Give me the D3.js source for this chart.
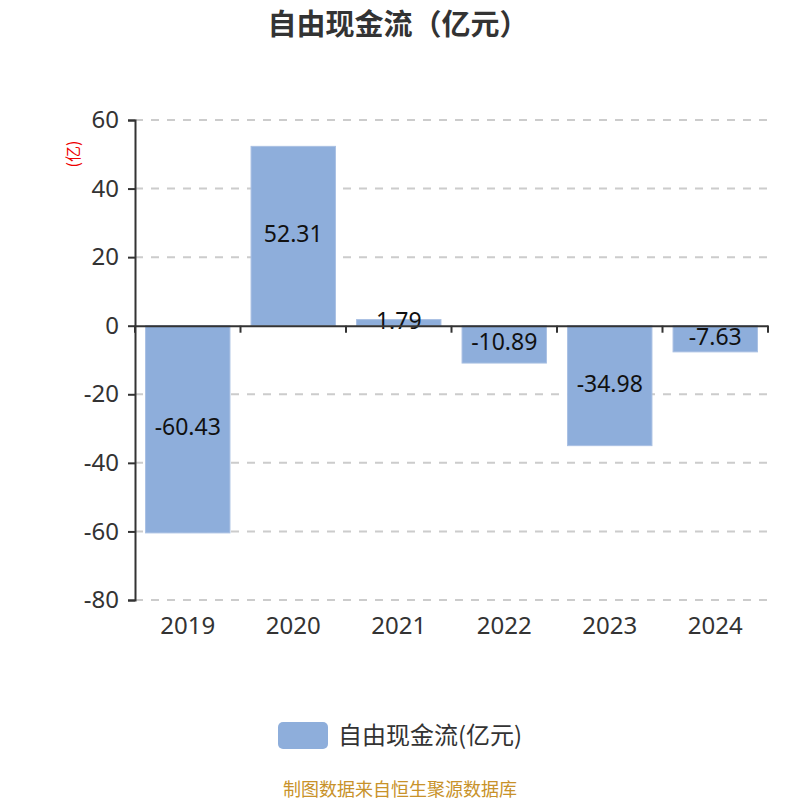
<!DOCTYPE html>
<html><head><meta charset="utf-8">
<script src="https://cdn.jsdelivr.net/npm/d3@7"></script>
<style>body{margin:0;background:#fff}svg{display:block}</style>
</head><body>
<svg id="c" width="800" height="800"></svg>
<script>
const categories = ["2019","2020","2021","2022","2023","2024"];
const values = [-60.43, 52.31, 1.79, -10.89, -34.98, -7.63];
const yTicks = [60,40,20,0,-20,-40,-60,-80];
const title = "自由现金流（亿元）";
const seriesName = "自由现金流(亿元)";
const unitLabel = "(亿)";
const source = "制图数据来自恒生聚源数据库";

const CJK = '"Noto Sans CJK SC","Noto Sans",sans-serif';
const NUM = '"Noto Sans","Open Sans",sans-serif';
const svg = d3.select("#c");
const L=135, R=768, T=120, B=600;
const x = d3.scaleBand().domain(categories).range([L,R]).paddingInner(0.2).paddingOuter(0.1);
const y = d3.scaleLinear().domain([-80,60]).range([B,T]);
const barColor = "#8eaedb";

svg.append("text").attr("x",398).attr("y",35).attr("text-anchor","middle")
  .style("font-family",CJK).style("font-size","29px").style("font-weight","bold").attr("fill","#333").text(title);

// grid
svg.append("g").selectAll("line").data(yTicks.filter(d=>d!==0)).join("line")
  .attr("x1",L).attr("x2",R).attr("y1",d=>y(d)).attr("y2",d=>y(d))
  .attr("stroke","#ccc").attr("stroke-width",2).attr("stroke-dasharray","8,8");

// bars
svg.append("g").selectAll("rect").data(values).join("rect")
  .attr("x",(d,i)=>x(categories[i])).attr("width",x.bandwidth())
  .attr("y",d=>y(Math.max(0,d))).attr("height",d=>Math.abs(y(d)-y(0)))
  .attr("fill",barColor).attr("stroke","#a9c0e3").attr("stroke-width",1);

// labels
svg.append("g").selectAll("text").data(values).join("text")
  .attr("x",(d,i)=>x(categories[i])+x.bandwidth()/2)
  .attr("y",d=>(y(d)+y(0))/2).attr("dy","0.26em").attr("text-anchor","middle")
  .style("font-family",NUM).style("font-size","23px").attr("fill","#111").text(d=>d.toFixed(2));

// y axis
const ya = svg.append("g").attr("transform",`translate(${L},0)`)
  .call(d3.axisLeft(y).tickValues(yTicks).tickSize(7).tickPadding(9).tickFormat(d=>String(d)));
ya.select(".domain").attr("stroke","#333").attr("stroke-width",2);
ya.selectAll(".tick line").attr("stroke","#333").attr("stroke-width",2);
ya.selectAll(".tick text").style("font-size","24px").attr("fill","#333").style("font-family",NUM);

// x axis at zero
const xa = svg.append("g").attr("transform",`translate(0,${y(0)})`)
  .call(d3.axisBottom(x).tickSize(0).tickFormat(""));
xa.select(".domain").attr("stroke","#333").attr("stroke-width",2);
const bounds = d3.range(categories.length+1).map(i=>L+i*(R-L)/categories.length);
svg.append("g").selectAll("line").data(bounds).join("line")
  .attr("x1",d=>d).attr("x2",d=>d).attr("y1",y(0)).attr("y2",y(0)+7)
  .attr("stroke","#333").attr("stroke-width",2);

// category labels at bottom
svg.append("g").selectAll("text").data(categories).join("text")
  .attr("x",d=>x(d)+x.bandwidth()/2).attr("y",634).attr("text-anchor","middle")
  .style("font-size","24px").attr("fill","#333").style("font-family",NUM).text(d=>d);

// unit label
svg.append("text").attr("transform","translate(79,154) rotate(-90)").attr("text-anchor","middle")
  .style("font-family",CJK).style("font-size","16px").attr("fill","#e00").text(unitLabel);

// legend
svg.append("rect").attr("x",278).attr("y",722).attr("width",50).attr("height",27).attr("rx",5).attr("fill",barColor);
svg.append("text").attr("x",338).attr("y",744).style("font-family",CJK).style("font-size","24px").attr("fill","#333").text(seriesName);

svg.append("text").attr("x",400).attr("y",796).attr("text-anchor","middle")
  .style("font-family",CJK).style("font-size","18px").attr("fill","#c8922a").text(source);
</script>
</body></html>
